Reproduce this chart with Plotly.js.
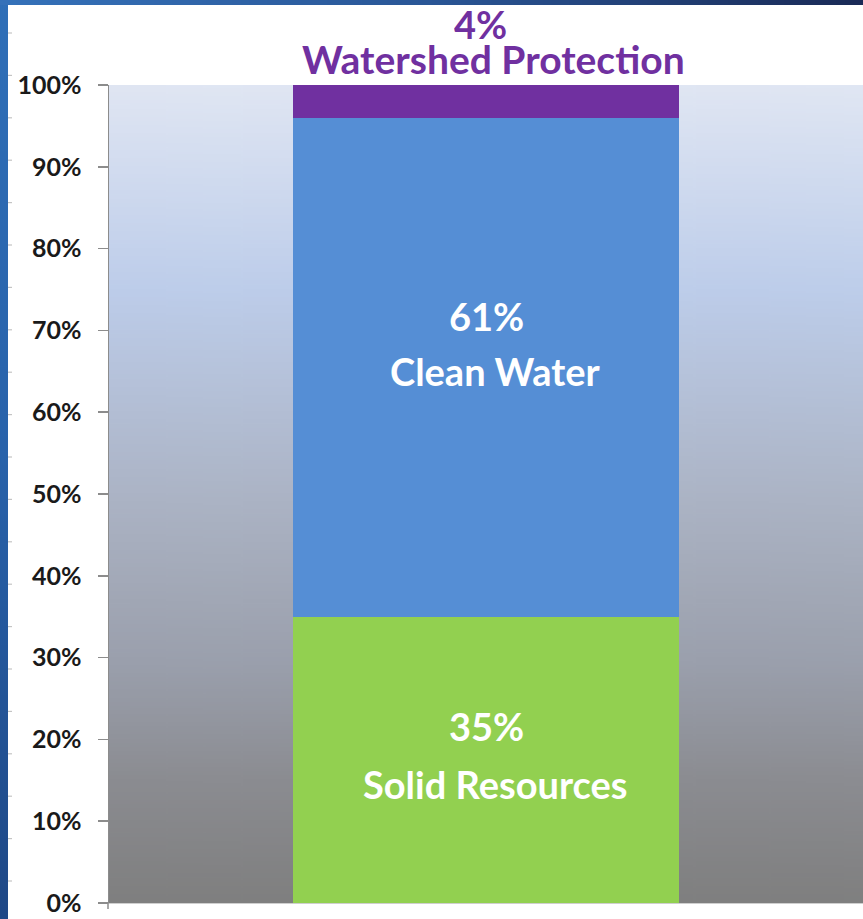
<!DOCTYPE html>
<html>
<head>
<meta charset="utf-8">
<script src="https://cdn.plot.ly/plotly-3.0.1.min.js"></script>
<style>
  html, body { margin: 0; padding: 0; background: #ffffff; }
  #chart { width: 863px; height: 919px; }
</style>
</head>
<body>
<div id="chart"></div>
<script>
// ---------- DATA ----------
const categories = ['Budget'];
const segmentNames = ['Solid Resources', 'Clean Water', 'Watershed Protection'];
const segmentValues = [35, 61, 4];
const yTickVals = [0, 10, 20, 30, 40, 50, 60, 70, 80, 90, 100];
const yTickText = ['0%', '10%', '20%', '30%', '40%', '50%', '60%', '70%', '80%', '90%', '100%'];

// ---------- STYLE ----------
const W = 863, H = 919;
const M = { l: 109, r: 0, t: 85, b: 16 };
const segmentColors = ['#92d050', '#558ed5', '#7030a0'];
const FONT = 'Lato, "Open Sans", "Liberation Sans", sans-serif';
// label pixel shifts per segment: [number line, name line]
const insideShift = [[34, -24], [51, -4]];

function gradientImage(w, h, stops, horizontal) {
  const c = document.createElement('canvas');
  c.width = w; c.height = h;
  const ctx = c.getContext('2d');
  const g = horizontal ? ctx.createLinearGradient(0, 0, w, 0) : ctx.createLinearGradient(0, 0, 0, h);
  stops.forEach(s => g.addColorStop(s[0], s[1]));
  ctx.fillStyle = g;
  ctx.fillRect(0, 0, w, h);
  return c.toDataURL('image/png');
}

const plotW = W - M.l - M.r, plotH = H - M.t - M.b;
const px2x = px => (px - M.l) / plotW;
const py2y = py => 1 - (py - M.t) / plotH;

const bgImg = gradientImage(20, 400, [
  [0, '#e0e6f3'], [0.25, '#bdcdea'], [0.51, '#abb3c4'], [0.63, '#a1a7b5'],
  [0.71, '#9a9fac'], [0.85, '#8b8c91'], [1, '#7f7f7f']
], false);
const leftStrip = gradientImage(8, 400, [[0, '#2f6fb8'], [0.5, '#2862aa'], [1, '#1f4886']], false);
const topStrip = gradientImage(400, 6, [[0, '#3572ba'], [0.5, '#2a5696'], [1, '#1a2a56']], true);

const traces = segmentNames.map((name, i) => ({
  type: 'bar',
  name: name,
  x: categories,
  y: [segmentValues[i]],
  width: 0.512,
  marker: { color: segmentColors[i], line: { width: 0 } },
  hoverinfo: 'name+y'
}));

const annotations = [];
let cum = 0;
segmentValues.forEach((v, i) => {
  const mid = cum + v / 2;
  cum += v;
  if (i < 2) {
    annotations.push({
      x: categories[0], y: mid, xref: 'x', yref: 'y', showarrow: false,
      text: '<b>' + v + '%</b>', yshift: insideShift[i][0], xshift: 0,
      font: { family: FONT, size: 38, color: '#ffffff' }
    });
    annotations.push({
      x: categories[0], y: mid, xref: 'x', yref: 'y', showarrow: false,
      text: '<b>' + segmentNames[i] + '</b>', yshift: insideShift[i][1], xshift: 9,
      font: { family: FONT, size: 38, color: '#ffffff' }
    });
  } else {
    annotations.push({
      x: categories[0], y: cum, xref: 'x', yref: 'y', showarrow: false,
      text: '<b>' + v + '%</b>', yshift: 61, xshift: -6, height: 30,
      font: { family: FONT, size: 38, color: '#7030a0' }
    });
    annotations.push({
      x: categories[0], y: cum, xref: 'x', yref: 'y', showarrow: false,
      text: '<b>' + segmentNames[i] + '</b>', yshift: 26, xshift: 7, height: 32,
      font: { family: FONT, size: 39, color: '#7030a0' }
    });
  }
});

// decorative slide ruler marks along the left edge
const shapes = [];
for (let py = 33; py < 900; py += 42.4) {
  shapes.push({ type: 'line', xref: 'paper', yref: 'paper',
    x0: px2x(8), x1: px2x(12), y0: py2y(py), y1: py2y(py),
    line: { color: '#c4c4c4', width: 1.2 } });
}
// small tick below axis corner
shapes.push({ type: 'line', xref: 'paper', yref: 'paper',
  x0: px2x(108), x1: px2x(108), y0: 0, y1: py2y(909),
  line: { color: '#8c8c8c', width: 1.5 } });

const layout = {
  width: W, height: H,
  margin: M,
  paper_bgcolor: '#ffffff',
  plot_bgcolor: 'rgba(0,0,0,0)',
  barmode: 'stack',
  showlegend: false,
  bargap: 0,
  xaxis: {
    range: [-0.5, 0.5],
    showticklabels: false,
    showgrid: false,
    zeroline: false,
    showline: true,
    linecolor: '#cfcfcf',
    linewidth: 1,
    ticks: '',
    fixedrange: true
  },
  yaxis: {
    range: [0, 100],
    tickvals: yTickVals,
    ticktext: yTickText,
    ticks: 'outside',
    ticklen: 10,
    tickwidth: 1.5,
    tickcolor: '#8c8c8c',
    showline: true,
    linecolor: '#8c8c8c',
    linewidth: 1.5,
    showgrid: false,
    zeroline: false,
    ticklabelstandoff: 11,
    tickfont: { family: FONT, size: 25, color: '#1a1a1a', weight: 'bold' },
    fixedrange: true
  },
  annotations: annotations,
  shapes: shapes,
  images: [
    { source: bgImg, xref: 'paper', yref: 'paper', x: 0, y: 1, sizex: 1, sizey: 1,
      sizing: 'stretch', xanchor: 'left', yanchor: 'top', layer: 'below' },
    { source: leftStrip, xref: 'paper', yref: 'paper', x: -M.l / plotW, y: 1 + M.t / plotH,
      sizex: 8 / plotW, sizey: H / plotH, sizing: 'stretch', xanchor: 'left', yanchor: 'top', layer: 'above' },
    { source: topStrip, xref: 'paper', yref: 'paper', x: -M.l / plotW, y: 1 + M.t / plotH,
      sizex: W / plotW, sizey: 5 / plotH, sizing: 'stretch', xanchor: 'left', yanchor: 'top', layer: 'above' }
  ]
};

Plotly.newPlot('chart', traces, layout, { displayModeBar: false, staticPlot: true });
</script>
</body>
</html>
